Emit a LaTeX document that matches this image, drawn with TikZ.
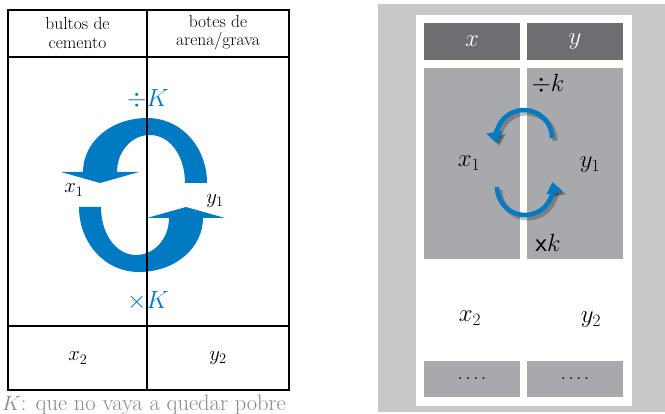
\documentclass[tikz,border=0pt]{standalone}
\usepackage{amsmath}
\usetikzlibrary{arrows.meta}
\definecolor{kblue}{RGB}{0,122,194}
\definecolor{panelgray}{RGB}{199,200,202}
\definecolor{darkcell}{RGB}{109,110,113}
\definecolor{midcell}{RGB}{167,169,172}
\definecolor{captgray}{RGB}{138,138,138}
\begin{document}
\begin{tikzpicture}[x=1pt,y=-1pt,
  tbl/.style={line width=2pt},
  hdr/.style={align=center,font=\fontsize{17.5}{18}\selectfont},
  lab/.style={font=\fontsize{21}{24}\selectfont},
  blab/.style={font=\fontsize{36}{40}\selectfont, text=kblue, anchor=base, inner sep=0pt},
  rlab/.style={font=\fontsize{27}{32}\selectfont},
  dcell/.style={fill=darkcell, minimum width=96pt, minimum height=37pt, inner sep=0pt, text=white, font=\fontsize{27}{32}\selectfont},
  mcell/.style={fill=midcell, minimum width=96pt, inner sep=0pt},
  dots/.style={font=\fontsize{22}{24}\selectfont},
  arcst/.style={kblue, line width=4.5pt, -{Triangle[width=16pt,length=11pt]}},
  shad/.style={black, opacity=0.25, line width=5pt, -{Triangle[width=17pt,length=11pt]}}
]
\useasboundingbox (0,0) rectangle (665,414);

% ---------- left table ----------
\fill[kblue] (207,183) .. controls (207,148) and (182,118) .. (147,118)
  .. controls (111,118) and (83,142) .. (83,172) -- (117,172)
  .. controls (117,152) and (131,135) .. (150,135)
  .. controls (170,135) and (185,156) .. (185,183) -- cycle;
\fill[kblue] (61,172) -- (139,172) -- (100,183) -- cycle;
\begin{scope}[rotate around={180:(143,195)}]
\fill[kblue] (207,183) .. controls (207,148) and (182,118) .. (147,118)
  .. controls (111,118) and (83,142) .. (83,172) -- (117,172)
  .. controls (117,152) and (131,135) .. (150,135)
  .. controls (170,135) and (185,156) .. (185,183) -- cycle;
\fill[kblue] (61,172) -- (139,172) -- (100,183) -- cycle;
\end{scope}

\draw[tbl] (8,10) rectangle (289,390);
\draw[tbl] (8,57) -- (289,57);
\draw[tbl] (8,326) -- (289,326);
\draw[tbl] (147,10) -- (147,390);

\node[hdr] (h1) at (77.5,33) {bultos de\\cemento};
\node[hdr] (h2) at (218,33) {botes de\\arena/grava};

\node[blab] (dk) at (148,107) {$\div K$};
\node[blab] (mk) at (148,309) {$\times K$};

\node[lab] (x1) at (74,190) {$x_{1}$};
\node[lab] (y1) at (215,201) {$y_{1}$};
\node[lab] (x2) at (78,358) {$x_{2}$};
\node[lab] (y2) at (218,358) {$y_{2}$};

\node[anchor=base west, text=captgray, font=\fontsize{22.5}{24}\selectfont, inner sep=0pt] (cap) at (2,411) {$K$: que no vaya a quedar pobre};

% ---------- right panel ----------
\fill[panelgray] (378,4) rectangle (665,412);
\fill[white] (416,15) rectangle (632,406);

\node[dcell] (hx) at (472,41.5) {$x$};
\node[dcell] (hy) at (575,41.5) {$y$};
\node[mcell, minimum height=191pt] (mx) at (472,163.5) {};
\node[mcell, minimum height=191pt] (my) at (575,163.5) {};
\node[mcell, minimum height=36pt] (bx) at (472,379) {};
\node[mcell, minimum height=36pt] (by) at (575,379) {};
\node[dots] (dx) at (bx) {.\hspace{2.2pt}.\hspace{2.2pt}.\hspace{2.2pt}.};
\node[dots] (dy) at (by) {.\hspace{2.2pt}.\hspace{2.2pt}.\hspace{2.2pt}.};

\node[rlab] (rdk) at (548,84) {$\div k$};
\node[rlab] (rmk) at (548,243) {\textsf{x}$k$};
\node[rlab] (rx1) at (469,163) {$x_{1}$};
\node[rlab] (ry1) at (590,165) {$y_{1}$};
\node[rlab] (rx2) at (470,318) {$x_{2}$};
\node[rlab] (ry2) at (591,320) {$y_{2}$};

\coordinate (ta) at (552,138);
\coordinate (tas) at (555,141);
\coordinate (ba) at (497,187);
\coordinate (bas) at (500,190);
\draw[shad] (tas) arc[start angle=0, end angle=-190, radius=28];
\draw[shad] (bas) arc[start angle=180, end angle=-10, radius=28];
\draw[arcst] (ta) arc[start angle=0, end angle=-190, radius=28];
\draw[arcst] (ba) arc[start angle=180, end angle=-10, radius=28];
\end{tikzpicture}
\end{document}
